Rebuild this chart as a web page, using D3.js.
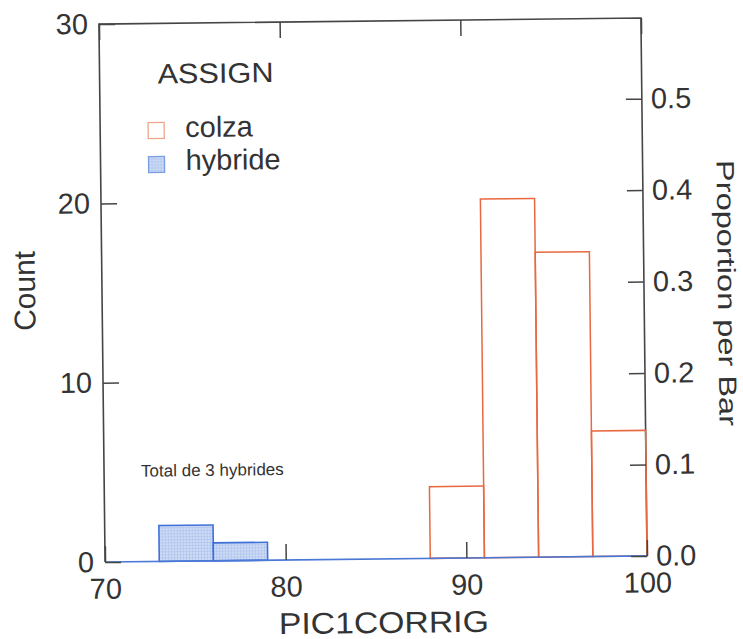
<!DOCTYPE html>
<html>
<head>
<meta charset="utf-8">
<script src="https://cdn.jsdelivr.net/npm/d3@7"></script>
<style>
  html, body { margin: 0; padding: 0; background: #ffffff; }
  svg { display: block; }
  text { font-family: "Liberation Sans", Arial, Helvetica, sans-serif; fill: #333333; }
</style>
</head>
<body>
<svg id="chart" width="743" height="639"></svg>
<script>
// Histogram of PIC1CORRIG by ASSIGN group (bins of width 3)
const groups = ["colza", "hybride"];
const colzaBinStarts = [88, 91, 94, 97];
const colzaCounts = [4, 20, 17, 7];
const hybrideBinStarts = [73, 76];
const hybrideCounts = [2, 1];
const binWidth = 3;

const xTicks = [70, 80, 90, 100];
const countTicks = [0, 10, 20, 30];
const proportionTicks = [0.0, 0.1, 0.2, 0.3, 0.4, 0.5];

const legendTitle = "ASSIGN";
const xTitle = "PIC1CORRIG";
const yTitle = "Count";
const y2Title = "Proportion per Bar";
const note = "Total de 3 hybrides";

const total = d3.sum(colzaCounts) + d3.sum(hybrideCounts);

const L = 102, R = 644, T = 21, B = 559;
const tickLen = 16;
const frameColor = "#454545";
const colzaColor = "#e8683f";
const hybrideStroke = "#3f70d8";
const hybrideFill = "#cddbf4";

const x = d3.scaleLinear().domain([70, 100]).range([L, R]);
const y = d3.scaleLinear().domain([0, 30]).range([B, T]);
const y2 = d3.scaleLinear().domain([0, 30 / total]).range([B, T]);

const svg = d3.select("#chart");

// fine grid fill for the hybride bars
const defs = svg.append("defs");
const pat = defs.append("pattern")
  .attr("id", "gridFill")
  .attr("patternUnits", "userSpaceOnUse")
  .attr("width", 3).attr("height", 3);
pat.append("rect").attr("width", 3).attr("height", 3).attr("fill", hybrideFill);
pat.append("path").attr("d", "M0,0.5H3M0.5,0V3")
  .attr("stroke", "#a9c0ec").attr("stroke-width", 0.6).attr("fill", "none");

// the whole figure is tilted slightly
const g = svg.append("g").attr("transform", "rotate(-0.65 373 290)");

// frame (left, top, right)
g.append("path")
  .attr("d", `M${L},${B}V${T}H${R}V${B}`)
  .attr("fill", "none").attr("stroke", frameColor).attr("stroke-width", 1.6);

// bars
const colzaData = colzaBinStarts.map((s, i) => ({ start: s, count: colzaCounts[i] }));
const hybrideData = hybrideBinStarts.map((s, i) => ({ start: s, count: hybrideCounts[i] }));

g.selectAll("rect.colza").data(colzaData).join("rect")
  .attr("class", "colza")
  .attr("x", d => x(d.start))
  .attr("y", d => y(d.count))
  .attr("width", d => x(d.start + binWidth) - x(d.start))
  .attr("height", d => y(0) - y(d.count))
  .attr("fill", "none")
  .attr("stroke", colzaColor).attr("stroke-width", 1.5);

g.selectAll("rect.hybride").data(hybrideData).join("rect")
  .attr("class", "hybride")
  .attr("x", d => x(d.start))
  .attr("y", d => y(d.count))
  .attr("width", d => x(d.start + binWidth) - x(d.start))
  .attr("height", d => y(0) - y(d.count))
  .attr("fill", "url(#gridFill)")
  .attr("stroke", hybrideStroke).attr("stroke-width", 1.6);

// baseline
g.append("line")
  .attr("x1", L).attr("x2", R).attr("y1", B).attr("y2", B)
  .attr("stroke", "#4a78d6").attr("stroke-width", 1.6);

// axes with inward ticks
const ax = g.append("g");
const axisStyle = sel => {
  sel.select(".domain").remove();
  sel.selectAll(".tick line").attr("stroke", frameColor).attr("stroke-width", 1.5);
  sel.selectAll("text").style("font-size", "29px").attr("fill", "#333");
};

ax.append("g").attr("transform", `translate(${L},0)`)
  .call(d3.axisLeft(y).tickValues(countTicks).tickFormat(d3.format("d"))
    .tickSizeInner(-tickLen).tickPadding(11))
  .call(axisStyle);

ax.append("g").attr("transform", `translate(0,${B})`)
  .call(d3.axisBottom(x).tickValues(xTicks).tickFormat(d3.format("d"))
    .tickSizeInner(-tickLen).tickPadding(16))
  .call(axisStyle);

ax.append("g").attr("transform", `translate(0,${T})`)
  .call(d3.axisTop(x).tickValues(xTicks).tickFormat(""))
  .call(s => { s.select(".domain").remove(); })
  .selectAll(".tick line").attr("y2", tickLen).attr("stroke", frameColor).attr("stroke-width", 1.5);

ax.append("g").attr("transform", `translate(${R},0)`)
  .call(d3.axisRight(y2).tickValues(proportionTicks).tickFormat(d3.format(".1f"))
    .tickSizeInner(-tickLen).tickPadding(9))
  .call(axisStyle);

// axis titles
g.append("text")
  .attr("transform", `translate(35,287) rotate(-90)`)
  .attr("text-anchor", "middle")
  .style("font-size", "30px")
  .text(yTitle);

g.append("text")
  .attr("transform", `translate(718,297) rotate(90)`)
  .attr("text-anchor", "middle")
  .style("font-size", "25px")
  .attr("textLength", 266).attr("lengthAdjust", "spacingAndGlyphs")
  .text(y2Title);

g.append("text")
  .attr("x", 380).attr("y", 633)
  .attr("text-anchor", "middle")
  .style("font-size", "30px")
  .attr("textLength", 210).attr("lengthAdjust", "spacingAndGlyphs")
  .text(xTitle);

// legend
g.append("text").attr("x", 160).attr("y", 81)
  .style("font-size", "28px")
  .attr("textLength", 116).attr("lengthAdjust", "spacingAndGlyphs")
  .text(legendTitle);

const legendRows = [
  { label: groups[0], y: 135, boxY: 120, fill: "#ffffff", stroke: "#f0a488" },
  { label: groups[1], y: 168, boxY: 154, fill: "url(#gridFill)", stroke: "#7a9ee4" }
];
const lg = g.selectAll("g.legend-row").data(legendRows).join("g").attr("class", "legend-row");
lg.append("rect")
  .attr("x", 150).attr("y", d => d.boxY).attr("width", 16).attr("height", 16)
  .attr("fill", d => d.fill).attr("stroke", d => d.stroke).attr("stroke-width", 1.3);
lg.append("text")
  .attr("x", 187).attr("y", d => d.y)
  .style("font-size", "29px")
  .text(d => d.label);

// annotation
g.append("text").attr("x", 139).attr("y", 474)
  .style("font-size", "17px")
  .text(note);
</script>
</body>
</html>
